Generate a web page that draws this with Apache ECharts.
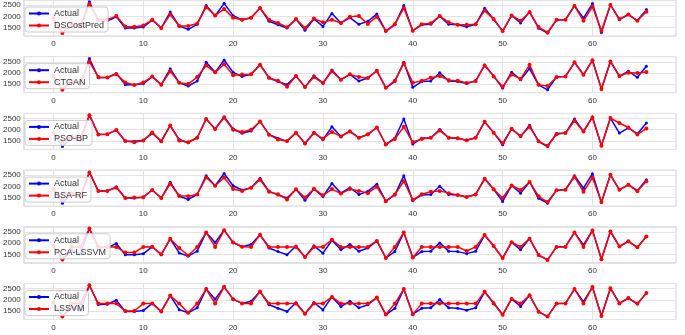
<!DOCTYPE html>
<html>
<head>
<meta charset="utf-8">
<script src="https://cdn.jsdelivr.net/npm/echarts@6/dist/echarts.min.js"></script>
<style>
  html, body { margin: 0; padding: 0; background: #fff; }
  #chart { width: 685px; height: 335px; }
</style>
</head>
<body>
<div id="chart"></div>
<script>
// actual cost, shared by every panel
const actual = [1880, 1250, 1680, 1520, 2650, 1790, 1800, 1980, 1480, 1480,
  1520, 1840, 1480, 2190, 1560, 1420, 1640, 2480, 2030, 2580,
  2030, 1840, 1940, 2370, 1780, 1620, 1480, 1870, 1380, 1880,
  1550, 2130, 1700, 1940, 1640, 1780, 2100, 1340, 1620, 2480,
  1360, 1620, 1640, 2010, 1640, 1620, 1530, 1640, 2360, 1870,
  1330, 2040, 1700, 2200, 1470, 1250, 1830, 1850, 2480, 1920,
  2570, 1280, 2520, 1850, 2080, 1810, 2300];

const dsCostPred = [1900, 1250, 1650, 1560, 2550, 1845, 1850, 2010, 1550, 1535,
  1590, 1845, 1480, 2085, 1565, 1565, 1680, 2410, 2040, 2325,
  1940, 1845, 1940, 2370, 1845, 1705, 1510, 1875, 1480, 1900,
  1730, 1845, 1705, 1985, 2010, 1660, 1985, 1340, 1650, 2370,
  1355, 1650, 1690, 2010, 1730, 1620, 1620, 1650, 2255, 1875,
  1340, 2040, 1800, 2180, 1520, 1280, 1845, 1845, 2465, 1800,
  2440, 1360, 2510, 1875, 2085, 1800, 2210];

const ctgan = [1880, 1250, 1640, 1560, 2510, 1820, 1800, 1950, 1580, 1465,
  1580, 1840, 1480, 2080, 1570, 1505, 1820, 2335, 2030, 2395,
  1905, 1935, 1940, 2370, 1790, 1650, 1390, 1870, 1380, 1820,
  1550, 2080, 1700, 1940, 1820, 1780, 2100, 1340, 1660, 2435,
  1560, 1650, 1790, 1865, 1680, 1660, 1550, 1640, 2340, 1850,
  1390, 1935, 1735, 2365, 1470, 1420, 1810, 1850, 2480, 1920,
  2570, 1290, 2520, 1870, 2010, 2000, 2050];

const psoBp = [1880, 1450, 1700, 1600, 2650, 1790, 1800, 1990, 1500, 1440,
  1520, 1880, 1480, 2190, 1520, 1440, 1640, 2480, 2030, 2540,
  2000, 1900, 2000, 2370, 1780, 1560, 1500, 1870, 1380, 1850,
  1600, 1900, 1700, 1920, 1640, 1800, 2100, 1340, 1580, 2130,
  1450, 1580, 1640, 1960, 1640, 1620, 1530, 1640, 2360, 1870,
  1400, 2040, 1720, 2130, 1490, 1280, 1800, 1850, 2400, 1920,
  2550, 1280, 2520, 2300, 2100, 1790, 2050];

const bsaRf = [1880, 1430, 1680, 1560, 2610, 1790, 1800, 1940, 1480, 1500,
  1520, 1840, 1480, 2120, 1580, 1560, 1640, 2400, 2030, 2400,
  1880, 1800, 1940, 2300, 1760, 1650, 1420, 1870, 1500, 1900,
  1600, 1880, 1680, 1880, 1800, 1700, 1980, 1340, 1640, 2230,
  1400, 1650, 1760, 1800, 1700, 1620, 1530, 1640, 2330, 1870,
  1480, 2040, 1840, 2200, 1560, 1300, 1830, 1850, 2430, 1760,
  2400, 1300, 2520, 1850, 2080, 1780, 2230];

const pcaLssvm = [1880, 1280, 1830, 1830, 2650, 1830, 1830, 1830, 1580, 1580,
  1830, 1840, 1500, 2190, 1780, 1450, 1830, 2480, 1830, 2580,
  2030, 1840, 1830, 2370, 1830, 1830, 1830, 1830, 1380, 1830,
  1830, 2150, 1830, 1830, 1830, 1830, 2100, 1340, 1830, 2480,
  1360, 1830, 1830, 1830, 1830, 1830, 1650, 1830, 2360, 1870,
  1330, 2040, 1830, 2200, 1470, 1250, 1830, 1830, 2480, 1830,
  2570, 1280, 2520, 1850, 2080, 1810, 2300];

const lssvm = [1880, 1250, 1830, 1830, 2650, 1830, 1830, 1830, 1500, 1500,
  1830, 1840, 1480, 2190, 1830, 1420, 1830, 2480, 1830, 2580,
  2030, 1840, 1830, 2370, 1830, 1830, 1830, 1830, 1380, 1830,
  1830, 2130, 1830, 1830, 1830, 1830, 2100, 1340, 1830, 2480,
  1360, 1830, 1830, 1830, 1830, 1830, 1830, 1830, 2360, 1830,
  1330, 2040, 1830, 2200, 1470, 1250, 1830, 1830, 2480, 1830,
  2570, 1280, 2520, 1830, 2080, 1830, 2300];

const modelNames = ["DSCostPred", "CTGAN", "PSO-BP", "BSA-RF", "PCA-LSSVM", "LSSVM"];
const modelValues = [dsCostPred, ctgan, psoBp, bsaRf, pcaLssvm, lssvm];

const chart = echarts.init(document.getElementById("chart"));

const FONT = "'Liberation Sans', Arial, sans-serif";
const PITCH = 56.7;
const PANEL_H = 36;

const toPairs = arr => arr.map((v, i) => [i, v]);

const grids = [], xAxes = [], yAxes = [], series = [], legends = [];

modelNames.forEach((name, k) => {
  grids.push({
    left: 22, right: 9, top: k * PITCH, height: PANEL_H,
    show: true, borderColor: "#d4d4d4", borderWidth: 1
  });
  xAxes.push({
    type: "value", gridIndex: k, min: -3.3, max: 69.3, splitNumber: 7,
    axisLine: { show: false }, axisTick: { show: false },
    splitLine: { lineStyle: { color: "#e3e3e3", width: 1 } },
    axisLabel: {
      showMinLabel: false, showMaxLabel: false,
      fontSize: 8, color: "#333", margin: 4, fontFamily: FONT,
      formatter: v => String(v)
    }
  });
  yAxes.push({
    type: "value", gridIndex: k, min: 1120, max: 2730, splitNumber: 3,
    axisLine: { show: false }, axisTick: { show: false },
    splitLine: { lineStyle: { color: "#e3e3e3", width: 1 } },
    axisLabel: {
      showMinLabel: false, showMaxLabel: false,
      fontSize: 8, color: "#333", margin: 3, fontFamily: FONT,
      formatter: v => String(v)
    }
  });
  series.push({
    type: "line", name: "Actual", xAxisIndex: k, yAxisIndex: k,
    data: toPairs(actual),
    symbol: "circle", symbolSize: 3,
    lineStyle: { color: "#0000ff", width: 1.5 },
    itemStyle: { color: "#0000ff" },
    animation: false, z: 2
  });
  series.push({
    type: "line", name: name, xAxisIndex: k, yAxisIndex: k,
    data: toPairs(modelValues[k]),
    symbol: "circle", symbolSize: 4,
    lineStyle: { color: "#ff0000", width: 1.5 },
    itemStyle: { color: "#ff0000" },
    animation: false, z: 3
  });
  legends.push({
    data: ["Actual", name],
    left: 25, top: k * PITCH + 7,
    orient: "vertical",
    itemWidth: 20, itemHeight: 5, itemGap: 3,
    padding: [2, 4, 2, 3],
    backgroundColor: "rgba(255,255,255,0.85)",
    borderColor: "#cccccc", borderWidth: 1, borderRadius: 3,
    textStyle: { fontSize: 9, color: "#333", fontFamily: FONT }
  });
});

chart.setOption({
  backgroundColor: "#fff",
  animation: false,
  grid: grids,
  xAxis: xAxes,
  yAxis: yAxes,
  legend: legends,
  series: series
});
</script>
</body>
</html>
